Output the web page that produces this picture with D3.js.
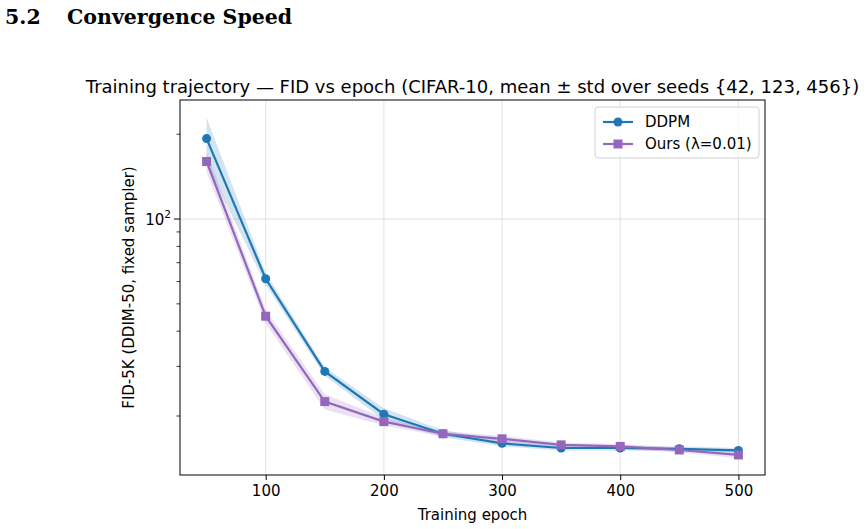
<!DOCTYPE html>
<html>
<head>
<meta charset="utf-8">
<script src="https://cdn.jsdelivr.net/npm/d3@7"></script>
<style>
  body { margin: 0; background: #fff; }
  svg { display: block; }
</style>
</head>
<body>
<div id="chart"></div>
<script>
var epochs = [50, 100, 150, 200, 250, 300, 350, 400, 450, 500];
var ddpmMean = [193, 61.4, 28.8, 20.3, 17.3, 16.0, 15.4, 15.4, 15.3, 15.1];
var ddpmStd = [36, 3.0, 1.0, 1.0, 0.5, 0.4, 0.3, 0.3, 0.3, 0.3];
var oursMean = [160, 45.2, 22.5, 19.1, 17.3, 16.6, 15.8, 15.6, 15.15, 14.55];
var oursStd = [13, 2.5, 1.4, 0.6, 0.4, 0.4, 0.3, 0.3, 0.3, 0.4];
var xTicks = [100, 200, 300, 400, 500];
var yMinor = [20, 30, 40, 50, 60, 70, 80, 90, 200];

function init() {
    var w = 866;
    var h = 529;
    var left = 180, right = 765, top = 100, bottom = 475;

    var svg = d3.select("#chart")
                .append("svg")
                .attr("width", w)
                .attr("height", h)
                .style("font-family", "DejaVu Sans");

    // section heading
    svg.append("text")
       .attr("x", 5)
       .attr("y", 24)
       .attr("font-family", "DejaVu Serif")
       .attr("font-weight", "bold")
       .attr("font-size", "20.5px")
       .text("5.2");
    svg.append("text")
       .attr("x", 67)
       .attr("y", 24)
       .attr("font-family", "DejaVu Serif")
       .attr("font-weight", "bold")
       .attr("font-size", "20.5px")
       .text("Convergence Speed");

    var x = d3.scaleLinear().domain([27.5, 522.5]).range([left, right]);
    var y = d3.scaleLog().domain([12.35, 264.5]).range([bottom, top]);

    // grid
    svg.selectAll("line.vgrid")
       .data(xTicks)
       .enter()
       .append("line")
       .attr("x1", function(d){ return x(d); })
       .attr("x2", function(d){ return x(d); })
       .attr("y1", top)
       .attr("y2", bottom)
       .attr("stroke", "#b0b0b0")
       .attr("stroke-opacity", 0.3)
       .attr("stroke-width", 1.2);
    svg.append("line")
       .attr("x1", left).attr("x2", right)
       .attr("y1", y(100)).attr("y2", y(100))
       .attr("stroke", "#b0b0b0")
       .attr("stroke-opacity", 0.3)
       .attr("stroke-width", 1.2);

    var series = [
        {name: "DDPM", mean: ddpmMean, std: ddpmStd, color: "#1f77b4", marker: "circle"},
        {name: "Ours (\u03bb=0.01)", mean: oursMean, std: oursStd, color: "#9467bd", marker: "square"}
    ];

    var area = d3.area()
                 .x(function(d){ return x(d.e); })
                 .y0(function(d){ return y(d.m - d.s); })
                 .y1(function(d){ return y(d.m + d.s); });
    var line = d3.line()
                 .x(function(d){ return x(d.e); })
                 .y(function(d){ return y(d.m); });

    series.forEach(function(s){
        s.pts = epochs.map(function(e, i){ return {e: e, m: s.mean[i], s: s.std[i]}; });
        svg.append("path")
           .attr("d", area(s.pts))
           .attr("fill", s.color)
           .attr("fill-opacity", 0.2);
    });

    function drawMarker(g, s, cx, cy) {
        if (s.marker === "circle") {
            g.append("circle").attr("cx", cx).attr("cy", cy).attr("r", 4.5).attr("fill", s.color);
        } else {
            g.append("rect").attr("x", cx - 4.5).attr("y", cy - 4.5)
             .attr("width", 9).attr("height", 9).attr("fill", s.color);
        }
    }

    series.forEach(function(s){
        svg.append("path")
           .attr("d", line(s.pts))
           .attr("fill", "none")
           .attr("stroke", s.color)
           .attr("stroke-width", 2.2);
        var g = svg.append("g");
        s.pts.forEach(function(p){ drawMarker(g, s, x(p.e), y(p.m)); });
    });

    // frame
    svg.append("rect")
       .attr("x", left).attr("y", top)
       .attr("width", right - left).attr("height", bottom - top)
       .attr("fill", "none")
       .attr("stroke", "#000")
       .attr("stroke-width", 1);

    // x axis
    var xAxis = d3.axisBottom(x).tickValues(xTicks).tickSize(5).tickPadding(5);
    var gx = svg.append("g")
       .attr("transform", "translate(0," + bottom + ")")
       .call(xAxis);
    gx.select(".domain").remove();
    gx.selectAll("text").attr("font-size", "15px").attr("font-family", "DejaVu Sans").attr("fill", "#000");

    // y axis ticks
    var gy = svg.append("g");
    gy.selectAll("line.minor")
      .data(yMinor)
      .enter()
      .append("line")
      .attr("x1", left - 3.5).attr("x2", left)
      .attr("y1", function(d){ return y(d); })
      .attr("y2", function(d){ return y(d); })
      .attr("stroke", "#000").attr("stroke-width", 0.8);
    gy.append("line")
      .attr("x1", left - 6).attr("x2", left)
      .attr("y1", y(100)).attr("y2", y(100))
      .attr("stroke", "#000").attr("stroke-width", 1);
    var lab = gy.append("text")
      .attr("x", left - 9)
      .attr("y", y(100) + 6)
      .attr("text-anchor", "end")
      .attr("font-size", "15px");
    lab.append("tspan").text("10");
    lab.append("tspan").attr("dy", -7).attr("font-size", "10.5px").text("2");

    // titles
    svg.append("text")
       .attr("x", (left + right) / 2)
       .attr("y", 93)
       .attr("text-anchor", "middle")
       .attr("font-size", "18px")
       .text("Training trajectory \u2014 FID vs epoch (CIFAR-10, mean \u00b1 std over seeds {42, 123, 456})");
    svg.append("text")
       .attr("x", (left + right) / 2)
       .attr("y", 520)
       .attr("text-anchor", "middle")
       .attr("font-size", "15px")
       .text("Training epoch");
    svg.append("text")
       .attr("transform", "translate(134," + ((top + bottom) / 2) + ") rotate(-90)")
       .attr("text-anchor", "middle")
       .attr("font-size", "15px")
       .text("FID-5K (DDIM-50, fixed sampler)");

    // legend
    var lg = svg.append("g");
    lg.append("rect")
      .attr("x", 595).attr("y", 107)
      .attr("width", 164).attr("height", 51)
      .attr("rx", 3)
      .attr("fill", "#fff").attr("fill-opacity", 0.8)
      .attr("stroke", "#d0d0d0");
    series.forEach(function(s, i){
        var ly = 122 + i * 22;
        lg.append("line")
          .attr("x1", 603).attr("x2", 633)
          .attr("y1", ly).attr("y2", ly)
          .attr("stroke", s.color).attr("stroke-width", 2.2);
        drawMarker(lg, s, 618, ly);
        lg.append("text")
          .attr("x", 645).attr("y", ly + 5)
          .attr("font-size", "15px")
          .text(s.name);
    });
}

window.onload = init;
</script>
</body>
</html>
